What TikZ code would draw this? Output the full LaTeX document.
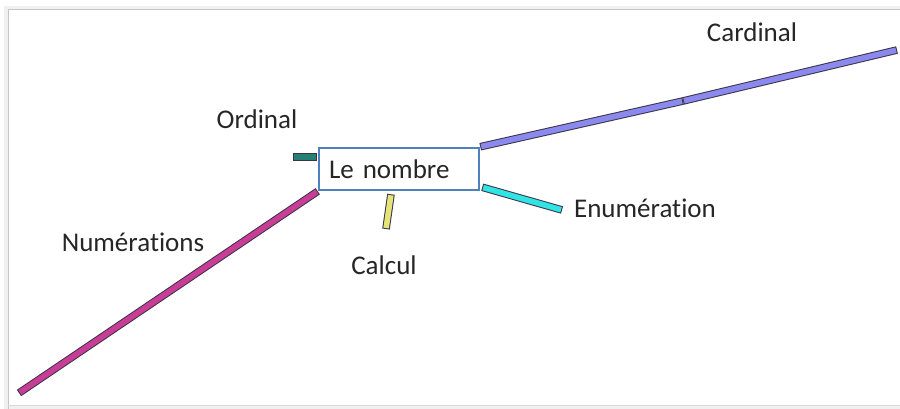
\documentclass[tikz,border=0pt]{standalone}
\usepackage{fontspec}
\setmainfont[Ligatures=NoCommon]{Carlito}
\usetikzlibrary{positioning,calc}
\definecolor{BoxBlue}{RGB}{79,129,189}
\definecolor{TextGrey}{RGB}{38,38,38}
\definecolor{BarEdge}{RGB}{60,50,70}
\definecolor{CardBlue}{RGB}{138,138,238}
\definecolor{NumMagenta}{RGB}{200,62,150}
\definecolor{OrdTeal}{RGB}{38,128,118}
\definecolor{CalcYellow}{RGB}{228,228,120}
\definecolor{EnumCyan}{RGB}{48,228,228}
\tikzset{
  topic/.style={font=\fontsize{27}{32}\selectfont,text=TextGrey,inner sep=0pt},
  branch/.style={line width=7.6pt,draw=BarEdge,
    postaction={draw=#1,line width=5.6pt,shorten <=1pt,shorten >=1pt}},
  centre/.style={draw=BoxBlue,line width=2.5pt,fill=white,
    minimum width=160pt,minimum height=42pt,inner xsep=10pt,
    text width=140pt,align=left,font=\fontsize{27}{32}\selectfont,text=TextGrey}
}
\begin{document}
\begin{tikzpicture}[x=1pt,y=-1pt]
  \useasboundingbox (0,0) rectangle (900,408);
  % frame and its shadow
  \fill[gray!12] (4,6) rectangle (904,410);
  \fill[white] (8,9) rectangle (904,405);
  \draw[gray!45,line width=1pt] (8,410) -- (8,9) -- (904,9);
  \draw[gray!30,line width=1pt] (8,405) -- (904,405);

  % branch ends
  \coordinate (cardmid) at (683,101);
  \coordinate (cardend) at (897,50);
  \coordinate (numend) at (19,393);
  \coordinate (ordend) at (293,157);
  \coordinate (calcend) at (386,229);
  \coordinate (enumend) at (562,210);

  \node[centre] (nombre) at (399,169) {Le nombre};

  \draw[branch=CardBlue] (nombre.north east) -- (cardmid);
  \draw[branch=CardBlue] (cardmid) -- (cardend);
  \draw[branch=NumMagenta] (nombre.south west) -- (numend);
  \draw[branch=OrdTeal] ($(nombre.west)+(-1,-12)$) -- (ordend);
  \draw[branch=CalcYellow] ($(nombre.south)+(-8,3)$) -- (calcend);
  \draw[branch=EnumCyan] ($(nombre.south east)+(2,-4)$) -- (enumend);

  \node[topic] (cardinal) at (752,32) {Cardinal};
  \node[topic] (ordinal) at (257,119) {Ordinal};
  \node[topic] (numerations) at (133,242) {Numérations};
  \node[topic] (calcul) at (384,265) {Calcul};
  \node[topic] (enumeration) at (645,208) {Enumération};
\end{tikzpicture}
\end{document}
